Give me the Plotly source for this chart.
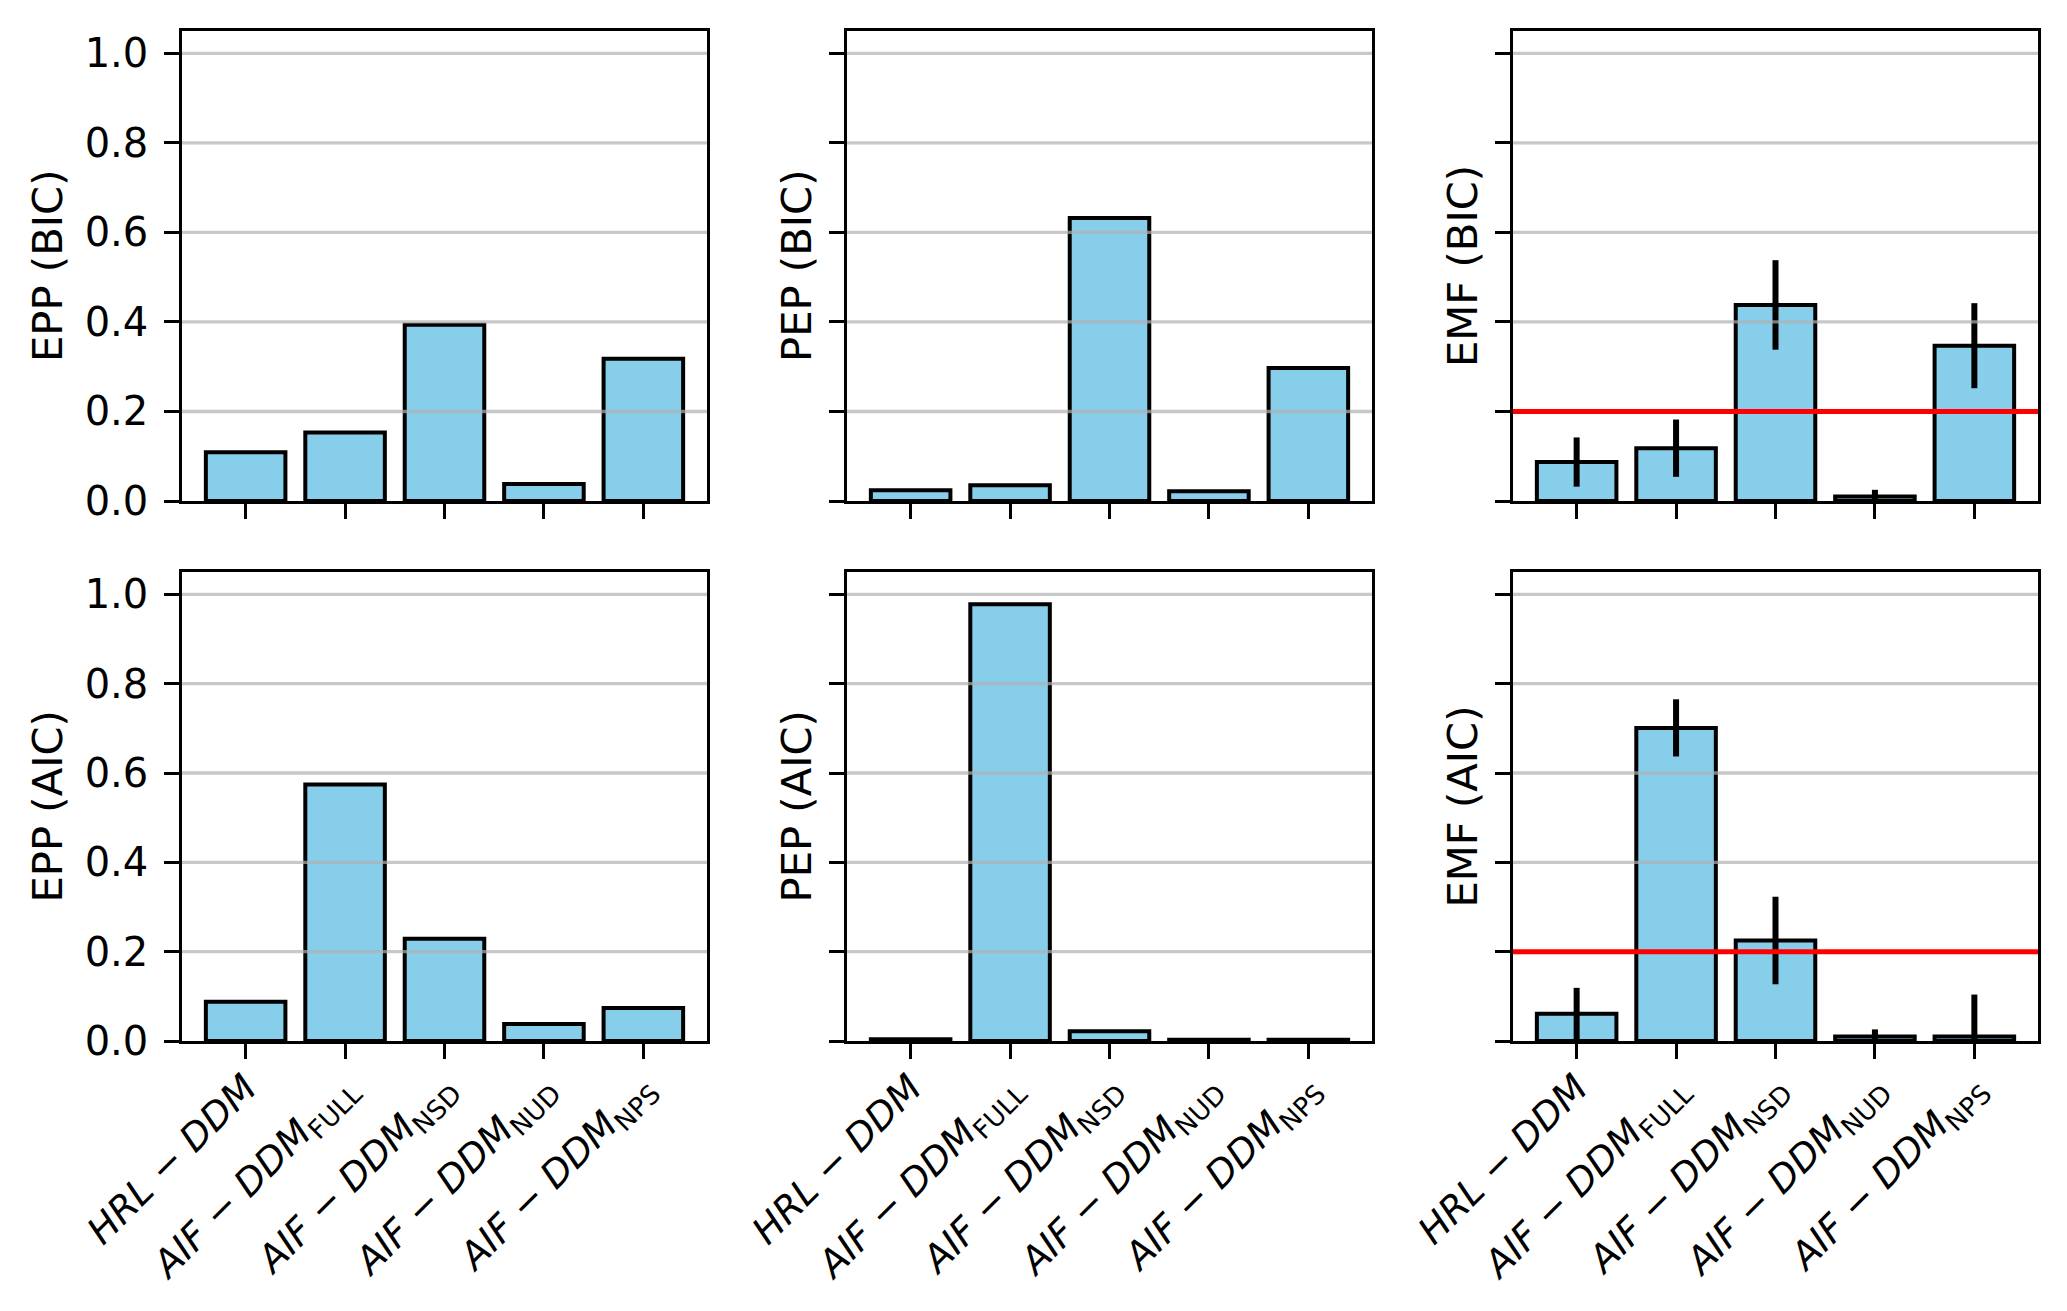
import plotly.graph_objects as go

# ---------------- data ----------------
model_labels = [
    "<i>HRL</i> − <i>DDM</i>",
    "<i>AIF</i> − <i>DDM</i><sub>FULL</sub>",
    "<i>AIF</i> − <i>DDM</i><sub>NSD</sub>",
    "<i>AIF</i> − <i>DDM</i><sub>NUD</sub>",
    "<i>AIF</i> − <i>DDM</i><sub>NPS</sub>",
]
x_pos = [0, 1, 2, 3, 4]

epp_bic = [0.109, 0.153, 0.394, 0.038, 0.318]
pep_bic = [0.024, 0.035, 0.632, 0.022, 0.297]
emf_bic = [0.087, 0.118, 0.438, 0.010, 0.347]
emf_bic_err = [0.055, 0.064, 0.100, 0.015, 0.095]

epp_aic = [0.088, 0.574, 0.229, 0.038, 0.074]
pep_aic = [0.004, 0.978, 0.022, 0.003, 0.003]
emf_aic = [0.061, 0.701, 0.225, 0.010, 0.010]
emf_aic_err = [0.058, 0.064, 0.098, 0.016, 0.094]

y_ticks = [0.0, 0.2, 0.4, 0.6, 0.8, 1.0]
y_tick_text = ["0.0", "0.2", "0.4", "0.6", "0.8", "1.0"]
threshold = 0.2

panels = [
    ("EPP (BIC)", epp_bic, None, False),
    ("PEP (BIC)", pep_bic, None, False),
    ("EMF (BIC)", emf_bic, emf_bic_err, True),
    ("EPP (AIC)", epp_aic, None, False),
    ("PEP (AIC)", pep_aic, None, False),
    ("EMF (AIC)", emf_aic, emf_aic_err, True),
]

# ---------------- layout ----------------
W, H = 2067, 1311
FONT = "DejaVu Sans"
FS = 41.7
FS_Y = 40
FS_X = 37.5
col_domains = [[182 / W, 707 / W], [847 / W, 1372 / W], [1513 / W, 2038 / W]]
row_domains = [[1 - 501 / H, 1 - 31 / H], [1 - 1041 / H, 1 - 572 / H]]
label_x = [47, 796, 1462]

fig = go.Figure()
layout = dict(
    width=W, height=H,
    margin=dict(l=0, r=0, t=0, b=0, pad=0, autoexpand=False),
    paper_bgcolor="white", plot_bgcolor="white",
    font=dict(family=FONT, size=FS, color="black"),
    showlegend=False,
    bargap=0.2,
)
shapes = []
annotations = []

for i, (title, vals, errs, thr) in enumerate(panels):
    r, c = divmod(i, 3)
    n = i + 1
    xa = "x" if n == 1 else f"x{n}"
    ya = "y" if n == 1 else f"y{n}"
    bar = go.Bar(
        x=x_pos, y=vals, width=0.8,
        marker=dict(color="#87CEEB", line=dict(color="black", width=4)),
        xaxis=xa, yaxis=ya, showlegend=False, hoverinfo="y",
    )
    if errs is not None:
        bar.error_y = dict(type="data", array=errs, visible=True,
                           color="black", thickness=6, width=0)
    fig.add_trace(bar)

    layout["xaxis" if n == 1 else f"xaxis{n}"] = dict(
        domain=col_domains[c], anchor=ya, range=[-0.64, 4.64],
        tickmode="array", tickvals=x_pos, ticktext=model_labels,
        showticklabels=(r == 1), tickangle=-45, automargin=False,
        ticks="outside", ticklen=14.6, tickwidth=3.3, tickcolor="black",
        showline=True, linecolor="black", linewidth=3.3, mirror=True,
        showgrid=False, zeroline=False, ticklabelstandoff=-8,
        tickfont=dict(family=FONT, size=FS_X, color="black"),
    )
    layout["yaxis" if n == 1 else f"yaxis{n}"] = dict(
        domain=row_domains[r], anchor=xa, range=[0, 1.05],
        tickmode="array", tickvals=y_ticks, ticktext=y_tick_text,
        showticklabels=(c == 0), automargin=False,
        ticks="outside", ticklen=14.6, tickwidth=3.3, tickcolor="black",
        showline=True, linecolor="black", linewidth=3.3, mirror=True,
        showgrid=False, zeroline=False, ticklabelstandoff=8,
        tickfont=dict(family=FONT, size=FS_Y, color="black"),
    )
    for v in y_ticks[1:]:
        shapes.append(dict(type="line", xref=f"{xa} domain", x0=0, x1=1,
                           yref=ya, y0=v, y1=v, layer="above",
                           line=dict(color="rgba(176,176,176,0.7)", width=3.3)))
    if thr:
        shapes.append(dict(type="line", xref=f"{xa} domain", x0=0, x1=1,
                           yref=ya, y0=threshold, y1=threshold, layer="above",
                           line=dict(color="red", width=5)))
    annotations.append(dict(
        text=title, xref="paper", x=label_x[c] / W,
        yref=f"{ya} domain", y=0.5, textangle=-90, showarrow=False,
        xanchor="center", yanchor="middle",
        font=dict(family=FONT, size=FS, color="black"),
    ))

layout["shapes"] = shapes
layout["annotations"] = annotations
fig.update_layout(**layout)

fig.write_html("out.html", config={"displayModeBar": False},
               post_script="document.body.style.margin='0';")
